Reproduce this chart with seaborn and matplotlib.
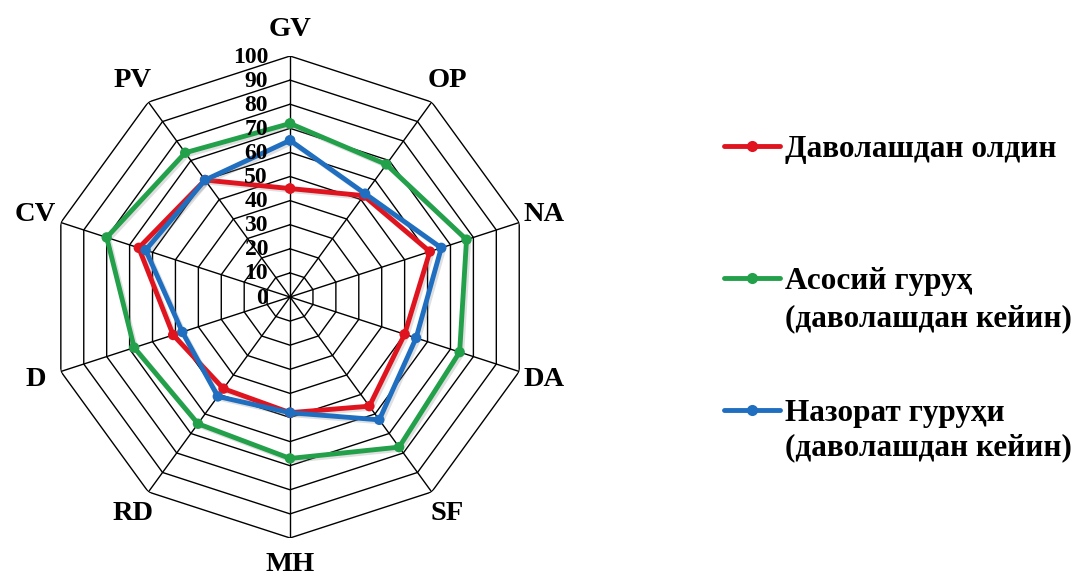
import numpy as np
import pandas as pd
import matplotlib
matplotlib.use("Agg")
import matplotlib.pyplot as plt
import matplotlib.patheffects as pe
import matplotlib.transforms as mtransforms
from matplotlib.lines import Line2D
import seaborn as sns

# категории и значения (оценка по рисунку)
categories = ["GV", "OP", "NA", "DA", "SF", "MH", "RD", "D", "CV", "PV"]
before = [45, 52, 61, 50, 56, 48, 47, 51, 66, 60]
main_group = [72, 68, 77, 74, 77, 67, 65, 68, 80, 74]
control_group = [65, 53, 66, 55, 63, 48, 51, 47, 63, 60]
r_ticks = [0, 10, 20, 30, 40, 50, 60, 70, 80, 90, 100]

names = ["Даволашдан олдин", "Асосий гуруҳ", "Назорат гуруҳи"]
second_line = "(даволашдан кейин)"
colors = ["#E0141E", "#23A04A", "#1F6EBF"]

sns.set_theme(style="white")
plt.rcParams["font.family"] = ["Liberation Serif", "DejaVu Serif"]
plt.rcParams["font.weight"] = "bold"
plt.rcParams["text.color"] = "black"

n = len(categories)
angles = np.deg2rad(np.arange(n) * 360 / n)
angles_closed = np.append(angles, angles[0])

rows = []
for name, vals in zip(names, [before, main_group, control_group]):
    vals_closed = list(vals) + [vals[0]]
    for i, (a, v) in enumerate(zip(angles_closed, vals_closed)):
        rows.append({"theta": a, "value": v, "group": name, "order": i})
df = pd.DataFrame(rows)

fig = plt.figure(figsize=(10.78, 5.78), dpi=100)
ax = fig.add_axes([0.0455, 0.0692, 0.4471, 0.8339], projection="polar")
ax.set_theta_zero_location("N")
ax.set_theta_direction(-1)
ax.set_ylim(0, 100)
ax.grid(False)
ax.spines["polar"].set_visible(False)
ax.set_xticks([])
ax.set_yticks([])
ax.patch.set_alpha(0)

# сетка-десятиугольник
for r in r_ticks[1:]:
    ax.plot(angles_closed, [r] * len(angles_closed), color="black", lw=1.0, zorder=1)
for a in angles:
    ax.plot([a, a], [0, 100], color="black", lw=1.0, zorder=1)

shadow = [pe.SimpleLineShadow(offset=(1.5, -1.5), alpha=0.25, shadow_color="gray"), pe.Normal()]
sns.lineplot(data=df, x="theta", y="value", hue="group", hue_order=names,
             palette=colors, sort=False, estimator=None, units="group",
             lw=3.5, marker="o", markersize=7.5, markeredgewidth=0,
             legend=False, ax=ax, zorder=3, path_effects=shadow)
ax.set_xlabel("")
ax.set_ylabel("")

# подписи шкалы вдоль оси GV
off = mtransforms.offset_copy(ax.transData, fig=fig, x=-22, y=-1, units="dots")
for t in r_ticks:
    ax.text(0, t, str(t), transform=off, ha="right", va="center",
            fontsize=17, fontweight="bold", zorder=4)

for a, c in zip(angles, categories):
    ax.text(a, 111, c, ha="center", va="center", fontsize=20.5, fontweight="bold",
            clip_on=False)

handles = [Line2D([0], [0], color=c, lw=3.5, marker="o", markersize=8,
                  markeredgewidth=0) for c in colors]
fig.legend(handles, names, loc="upper left", bbox_to_anchor=(0.6716, 0.767),
           frameon=False, handlelength=1.8, handletextpad=0.15,
           labelspacing=3.30, borderpad=0, borderaxespad=0,
           prop={"weight": "bold", "size": 22.5})
fig.text(0.728, 0.449, second_line, fontsize=22.5, fontweight="bold",
         va="center", ha="left")
fig.text(0.728, 0.225, second_line, fontsize=22.5, fontweight="bold",
         va="center", ha="left")

fig.savefig("out.png", dpi=100, facecolor="white")
